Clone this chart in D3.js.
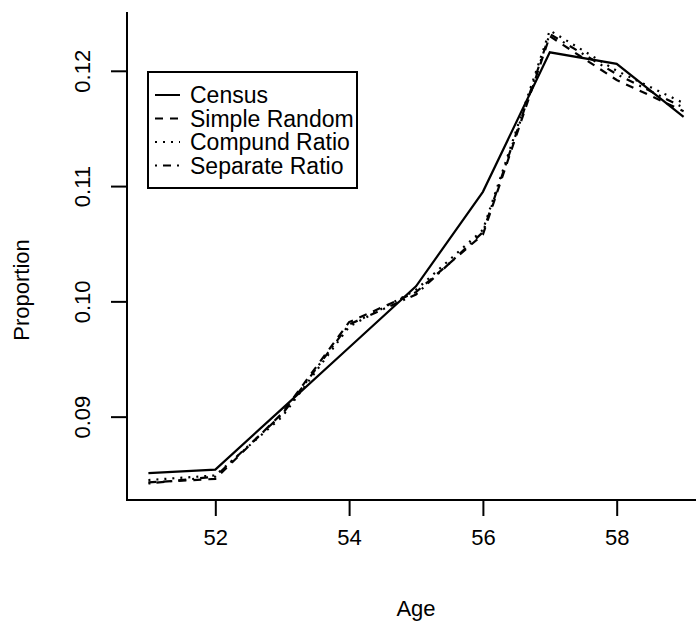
<!DOCTYPE html>
<html>
<head>
<meta charset="utf-8">
<script src="https://cdn.jsdelivr.net/npm/d3@7"></script>
<style>
  body { margin: 0; background: #fff; }
  text { font-family: "Liberation Sans", Arial, sans-serif; fill: #000; }
</style>
</head>
<body>
<script>
const width = 696;
const height = 621;

// data
const ages = [51, 52, 53, 54, 55, 56, 57, 58, 59];
const census = [0.0851, 0.0854, 0.0907, 0.0960, 0.1013, 0.1095, 0.1216, 0.1206, 0.1160];
const simpleRandom = [0.0843, 0.0846, 0.0903, 0.0982, 0.1008, 0.1058, 0.1230, 0.1192, 0.1165];
const compundRatio = [0.0845, 0.0849, 0.0900, 0.0978, 0.1010, 0.1062, 0.1235, 0.1200, 0.1172];
const separateRatio = [0.0842, 0.0848, 0.0902, 0.0980, 0.1006, 0.1060, 0.1232, 0.1197, 0.1168];

const seriesNames = ["Census", "Simple Random", "Compund Ratio", "Separate Ratio"];
const xTicks = [52, 54, 56, 58];
const yTicks = [0.09, 0.10, 0.11, 0.12];

const series = [census, simpleRandom, compundRatio, separateRatio];
const dashes = [null, "8,7", "2,6", "2,6,8,6"];

const svg = d3.select("body").append("svg")
    .attr("width", width)
    .attr("height", height);

// plot region (right edge runs off the page like the scan)
const plotLeft = 127, plotRight = 705, plotTop = 12, plotBottom = 500;

const x = d3.scaleLinear().domain([50.68, 59.32]).range([plotLeft, plotRight]);
const y = d3.scaleLinear().domain([0.08277, 0.12510]).range([plotBottom, plotTop]);

// box
svg.append("path")
    .attr("d", `M${plotRight},${plotBottom}H${plotLeft}V${plotTop}`)
    .attr("fill", "none")
    .attr("stroke", "#000")
    .attr("stroke-width", 2);

// x axis
const xAxis = svg.append("g")
    .attr("transform", `translate(0,${plotBottom})`)
    .call(d3.axisBottom(x).tickValues(xTicks).tickSize(16).tickSizeOuter(0).tickPadding(29));
xAxis.select(".domain").remove();
xAxis.selectAll("line").attr("stroke-width", 2);
xAxis.selectAll("text")
    .attr("font-size", 22)
    .attr("font-family", "Liberation Sans, Arial, sans-serif")
    .attr("dy", "0");

// y axis, labels rotated like R's default
const yAxis = svg.append("g")
    .attr("transform", `translate(${plotLeft},0)`)
    .call(d3.axisLeft(y).tickValues(yTicks).tickSize(16).tickSizeOuter(0).tickFormat(d3.format(".2f")));
yAxis.select(".domain").remove();
yAxis.selectAll("line").attr("stroke-width", 2);
yAxis.selectAll("text")
    .attr("font-size", 22)
    .attr("font-family", "Liberation Sans, Arial, sans-serif")
    .attr("x", 0)
    .attr("dy", 0)
    .attr("text-anchor", "middle")
    .attr("transform", "translate(-37,0) rotate(-90)");

svg.append("text")
    .attr("x", 416)
    .attr("y", 616)
    .attr("text-anchor", "middle")
    .attr("font-size", 22)
    .text("Age");

svg.append("text")
    .attr("transform", "translate(29,290) rotate(-90)")
    .attr("text-anchor", "middle")
    .attr("font-size", 22)
    .text("Proportion");

const line = d3.line()
    .x((d, i) => x(ages[i]))
    .y(d => y(d));

svg.append("g")
    .selectAll("path")
    .data(series)
    .enter().append("path")
    .attr("d", d => line(d))
    .attr("fill", "none")
    .attr("stroke", "#000")
    .attr("stroke-width", 2.2)
    .attr("stroke-dasharray", (d, i) => dashes[i]);

// legend
const legend = svg.append("g");
legend.append("rect")
    .attr("x", 148).attr("y", 72)
    .attr("width", 209).attr("height", 116)
    .attr("fill", "#fff")
    .attr("stroke", "#000")
    .attr("stroke-width", 2);

const rows = legend.selectAll("g.row")
    .data(seriesNames)
    .enter().append("g")
    .attr("class", "row")
    .attr("transform", (d, i) => `translate(0,${95 + i * 23.5})`);

rows.append("line")
    .attr("x1", 155).attr("x2", 180)
    .attr("stroke", "#000")
    .attr("stroke-width", 2)
    .attr("stroke-dasharray", (d, i) => dashes[i]);

rows.append("text")
    .attr("x", 190)
    .attr("dy", "0.36em")
    .attr("font-size", 23)
    .text(d => d);
</script>
</body>
</html>
